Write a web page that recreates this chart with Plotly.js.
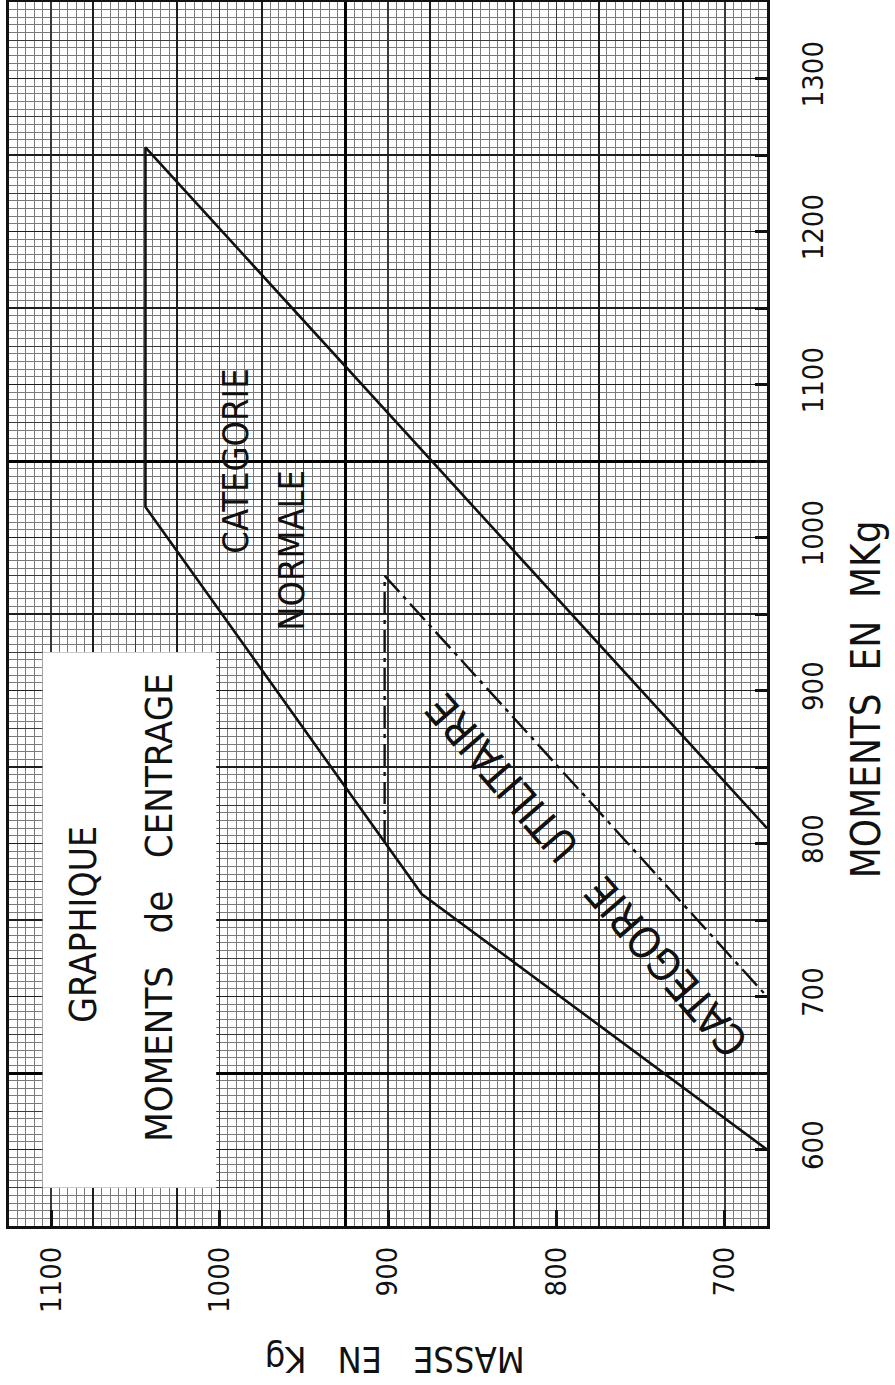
<!DOCTYPE html>
<html>
<head>
<meta charset="utf-8">
<script src="https://cdn.plot.ly/plotly-3.0.1.min.js"></script>
<style>
  html, body { margin: 0; padding: 0; background: #ffffff; }
  #chart { width: 895px; height: 1385px; }
</style>
</head>
<body>
<div id="chart"></div>
<script>
// ---- Data (masse en kg, moment en m.kg) ----
const MASS_TICKS = [700, 800, 900, 1000, 1100];
const MOMENT_TICKS = [600, 700, 800, 900, 1000, 1100, 1200, 1300];

// Catégorie normale (solid envelope)
const NORMAL_MASS   = [675, 880, 1044, 1044, 675];
const NORMAL_MOMENT = [600, 767, 1020, 1255, 810];

// Catégorie utilitaire (dashed envelope)
const UTIL_MASS   = [902, 902, 675];
const UTIL_MOMENT = [801, 975, 700];

// Graph-paper heavy lines
const HEAVY_MASS = [925];
const HEAVY_MOMENT = [1050, 650];

const MASS_RANGE = [1125, 675];
const MOMENT_RANGE = [550, 1350];

const FONT = "'Liberation Sans Narrow', 'DejaVu Sans Condensed', 'Arial Narrow', 'Roboto Condensed', sans-serif";
const NB = '\u00A0';

const traces = [
  { type: 'scatter', mode: 'lines', x: NORMAL_MASS, y: NORMAL_MOMENT,
    line: { color: '#111', width: 2.6 }, hoverinfo: 'skip', showlegend: false },
  { type: 'scatter', mode: 'lines', x: UTIL_MASS, y: UTIL_MOMENT,
    line: { color: '#111', width: 2.4, dash: '22px,6px,4px,6px' }, hoverinfo: 'skip', showlegend: false },
  { type: 'scatter', x: [null], y: [null], xaxis: 'x2', yaxis: 'y2', hoverinfo: 'skip', showlegend: false },
  { type: 'scatter', x: [null], y: [null], xaxis: 'x3', yaxis: 'y3', hoverinfo: 'skip', showlegend: false },
  { type: 'scatter', x: [null], y: [null], xaxis: 'x4', yaxis: 'y4', hoverinfo: 'skip', showlegend: false }
];

function gridAxis(extra) {
  return Object.assign({
    showticklabels: false, ticks: '', zeroline: false, showline: false, fixedrange: true
  }, extra);
}

const layout = {
  width: 895, height: 1385,
  margin: { l: 9, r: 128, t: 2, b: 159, pad: 0 },
  paper_bgcolor: '#ffffff', plot_bgcolor: '#ffffff',
  font: { family: FONT, color: '#111' },
  showlegend: false,
  xaxis: {
    range: MASS_RANGE, tickmode: 'array', tickvals: MASS_TICKS,
    ticktext: MASS_TICKS.map(String), tickangle: -90,
    tickfont: { size: 29, family: FONT, color: '#111' },
    ticks: 'inside', ticklen: 16, tickwidth: 3, tickcolor: '#111',
    ticklabelstandoff: 6,
    showgrid: false, zeroline: false,
    showline: true, linewidth: 3, linecolor: '#111', mirror: true
  },
  yaxis: {
    range: MOMENT_RANGE, side: 'right', tickmode: 'array', tickvals: MOMENT_TICKS,
    ticktext: MOMENT_TICKS.map(String), tickangle: -90,
    tickfont: { size: 29, family: FONT, color: '#111' },
    ticks: 'inside', ticklen: 12, tickwidth: 3, tickcolor: '#111',
    minor: { dtick: 50, tick0: 0, ticks: 'inside', ticklen: 12, tickwidth: 3, tickcolor: '#111', showgrid: false },
    ticklabelstandoff: 18,
    showgrid: false, zeroline: false,
    showline: true, linewidth: 3, linecolor: '#111', mirror: true
  },
  // medium (every 25) + minor (every 5) grid
  xaxis2: gridAxis({ overlaying: 'x', anchor: 'y2', range: MASS_RANGE, tick0: 0, dtick: 25,
    showgrid: true, gridcolor: '#3a3a3a', gridwidth: 1.4,
    minor: { tick0: 0, dtick: 5, showgrid: true, gridcolor: '#7a7a7a', gridwidth: 1 } }),
  yaxis2: gridAxis({ overlaying: 'y', anchor: 'x2', range: MOMENT_RANGE, tick0: 0, dtick: 25,
    showgrid: true, gridcolor: '#3a3a3a', gridwidth: 1.4,
    minor: { tick0: 0, dtick: 5, showgrid: true, gridcolor: '#7a7a7a', gridwidth: 1 } }),
  // dark centimetre lines (every 50)
  xaxis3: gridAxis({ overlaying: 'x', anchor: 'y3', range: MASS_RANGE, tick0: 25, dtick: 50,
    showgrid: true, gridcolor: '#1e1e1e', gridwidth: 1.9 }),
  yaxis3: gridAxis({ overlaying: 'y', anchor: 'x3', range: MOMENT_RANGE, tick0: 0, dtick: 50,
    showgrid: true, gridcolor: '#1e1e1e', gridwidth: 1.9 }),
  // heavy lines
  xaxis4: gridAxis({ overlaying: 'x', anchor: 'y4', range: MASS_RANGE, tickmode: 'array', tickvals: HEAVY_MASS,
    showgrid: true, gridcolor: '#000', gridwidth: 3 }),
  yaxis4: gridAxis({ overlaying: 'y', anchor: 'x4', range: MOMENT_RANGE, tickmode: 'array', tickvals: HEAVY_MOMENT,
    showgrid: true, gridcolor: '#000', gridwidth: 3 }),
  shapes: [
    { type: 'rect', xref: 'x', yref: 'y', x0: 1105, x1: 1002, y0: 575, y1: 925,
      fillcolor: '#ffffff', line: { width: 0 }, layer: 'above' }
  ],
  annotations: [
    { xref: 'x', yref: 'y', x: 1081, y: 747, text: 'GRAPHIQUE', textangle: -90, showarrow: false,
      font: { size: 37, family: FONT, color: '#111' } },
    { xref: 'x', yref: 'y', x: 1036, y: 758, text: 'MOMENTS' + NB + NB + NB + 'de' + NB + NB + NB + 'CENTRAGE', textangle: -90, showarrow: false,
      font: { size: 38, family: FONT, color: '#111' } },
    { xref: 'x', yref: 'y', x: 991, y: 1050, text: 'CATEGORIE', textangle: -90, showarrow: false,
      font: { size: 36, family: FONT, color: '#111' } },
    { xref: 'x', yref: 'y', x: 957, y: 992, text: 'NORMALE', textangle: -90, showarrow: false,
      font: { size: 36, family: FONT, color: '#111' } },
    { xref: 'x', yref: 'y', x: 782, y: 779, text: 'CATEGORIE' + NB + NB + NB + 'UTILITAIRE', textangle: -131, showarrow: false,
      font: { size: 43, family: FONT, color: '#111' } },
    { xref: 'paper', yref: 'paper', x: 1.163, y: 0.43, text: 'MOMENTS' + NB + NB + 'EN' + NB + NB + 'MKg', textangle: -90,
      showarrow: false, font: { size: 40, family: FONT, color: '#111' } },
    { xref: 'paper', yref: 'paper', x: 0.509, y: -0.127, text: 'MASSE' + NB + NB + NB + 'EN' + NB + NB + NB + 'Kg', textangle: 180,
      showarrow: false, font: { size: 36, family: FONT, color: '#111' } }
  ]
};

Plotly.newPlot('chart', traces, layout, { staticPlot: true, displayModeBar: false });
</script>
</body>
</html>
